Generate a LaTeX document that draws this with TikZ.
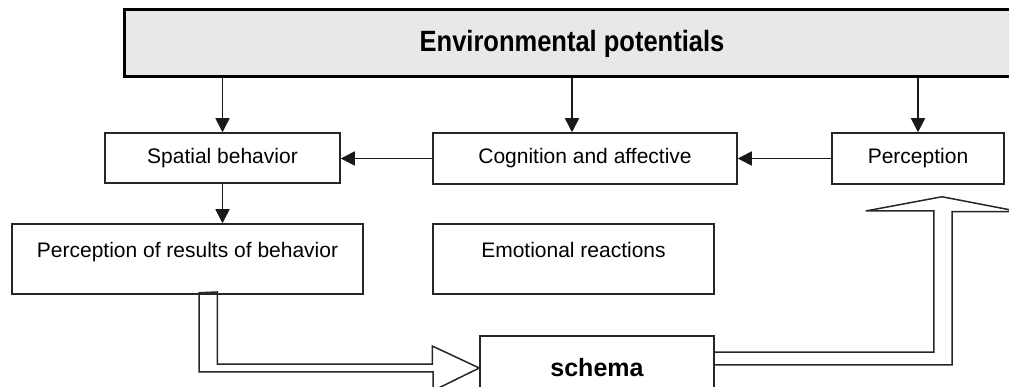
\documentclass[tikz,border=0pt]{standalone}
\usepackage{fontspec}
\setmainfont{Liberation Sans}
\usepackage{graphicx}
\usetikzlibrary{arrows.meta, positioning, calc}

\begin{document}
\begin{tikzpicture}[x=1pt, y=-1pt,
    box/.style={draw=black!85, line width=1.5pt, inner sep=0pt, font=\fontsize{21}{24}\selectfont},
    tallbox/.style={box, text height=16pt, text depth=19pt},
    arr/.style={draw=black!90, line width=1.6pt, -{Triangle[length=14pt, width=14pt]}},
    hollow/.style={draw=black!85, line width=1.5pt, line join=miter}]
    \useasboundingbox (0,0) rectangle (1009,387);
    \clip (0,0) rectangle (1009,387);

    % top bar
    \node[draw=black, line width=3pt, fill=black!9, minimum width=896pt, minimum height=67pt,
          font=\fontsize{25.5}{30}\bfseries] (env) at (572,43.5) {\scalebox{1}[1.15]{Environmental potentials}};

    % boxes
    \node[box, minimum width=235pt, minimum height=50pt] (spat) at (222.5,158) {Spatial behavior};
    \node[box, minimum width=304pt, minimum height=51pt] (cog) at (585,158.5) {Cognition and affective};
    \node[box, minimum width=172pt, minimum height=51pt] (perc) at (918,158.5) {Perception};
    \node[tallbox, minimum width=351pt, minimum height=70pt] (res) at (187.5,259) {Perception of results of behavior};
    \node[tallbox, minimum width=281pt, minimum height=70pt] (emo) at (573.5,259) {Emotional reactions};
    \node[box, minimum width=234pt, minimum height=64pt, font=\fontsize{25}{30}\bfseries] (sch) at (597,368) {schema};

    % arrows
    \draw[arr] (env.south -| spat.north) -- (spat.north);
    \draw[arr] (env.south) -- (env.south |- cog.north);
    \draw[arr] (env.south -| perc.north) -- (perc.north);
    \draw[arr] (perc.west) -- (cog.east);
    \draw[arr] (cog.west) -- (cog.west -| spat.east);
    \draw[arr] (spat.south) -- (spat.south |- res.north);

    % hollow arrows
    \draw[hollow] ($(res.south)+(11.5,-2)$) -- ++(0,79) -- ++(234,0) -- ++(0,19) -- (sch.west)
        -- ++(-47,-22) -- ++(0,18) -- ++(-215,0) -- ++(0,-72) -- cycle;
    \draw[hollow] ($(sch.east)+(0,-16)$) -- ++(219,0) -- ++(0,-141) -- ++(-68,0)
        -- ($(perc.south)+(24,12)$) -- ++(78,15) -- ++(-68,0) -- ++(0,153) -- ++(-238,0);
\end{tikzpicture}
\end{document}
